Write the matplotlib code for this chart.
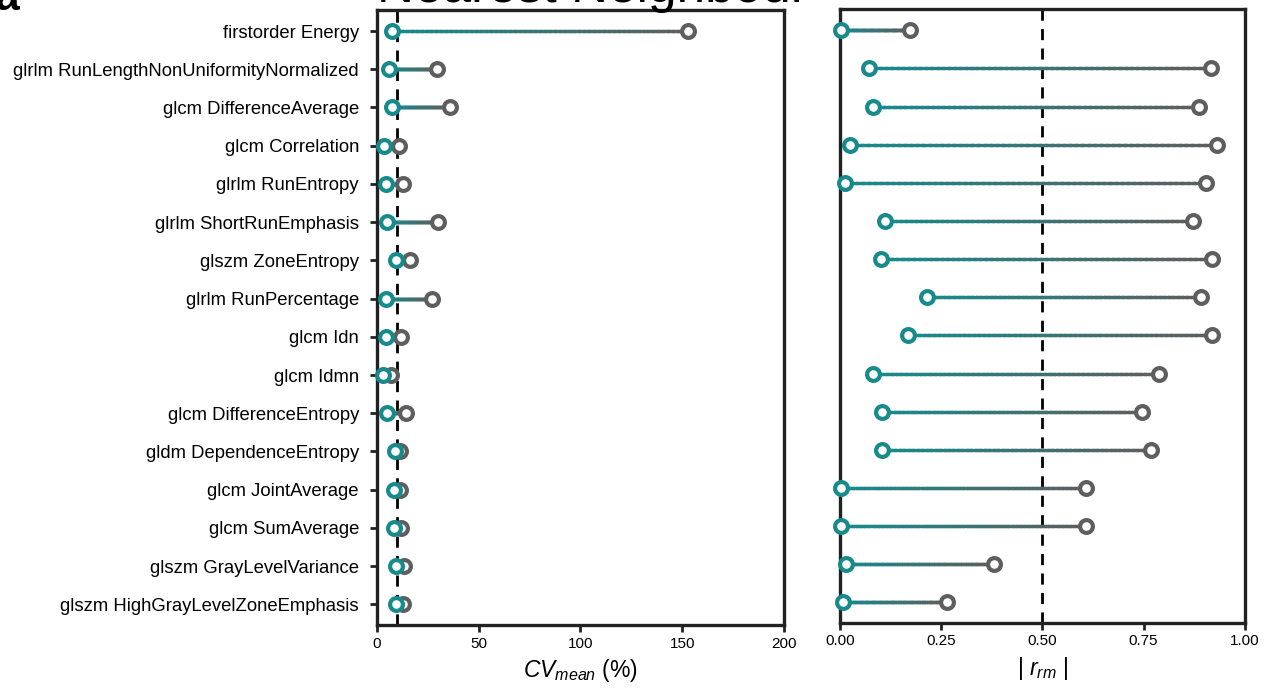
import numpy as np
import matplotlib
matplotlib.use('Agg')
import matplotlib.pyplot as plt
from matplotlib.collections import LineCollection
from matplotlib.colors import to_rgb

plt.rcParams['font.family'] = ['Liberation Sans', 'DejaVu Sans']
plt.rcParams['mathtext.fontset'] = 'custom'
plt.rcParams['mathtext.rm'] = 'Liberation Sans'
plt.rcParams['mathtext.it'] = 'Liberation Sans:italic'

features = [
    'firstorder Energy',
    'glrlm RunLengthNonUniformityNormalized',
    'glcm DifferenceAverage',
    'glcm Correlation',
    'glrlm RunEntropy',
    'glrlm ShortRunEmphasis',
    'glszm ZoneEntropy',
    'glrlm RunPercentage',
    'glcm Idn',
    'glcm Idmn',
    'glcm DifferenceEntropy',
    'gldm DependenceEntropy',
    'glcm JointAverage',
    'glcm SumAverage',
    'glszm GrayLevelVariance',
    'glszm HighGrayLevelZoneEmphasis',
]

# CV mean (%) -- teal (after) and gray (before)
cv_teal = [7.4, 5.9, 7.4, 3.4, 4.4, 4.9, 9.3, 4.4, 4.3, 3.1, 4.8, 8.8, 8.4, 8.4, 9.3, 9.2]
cv_gray = [152.8, 29.5, 35.9, 10.8, 12.8, 30.0, 16.2, 27.0, 11.8, 6.7, 14.2, 11.3, 11.3, 11.6, 13.3, 12.6]

# |r_rm| -- teal (after) and gray (before)
r_teal = [0.003, 0.072, 0.081, 0.025, 0.012, 0.112, 0.101, 0.214, 0.169, 0.081, 0.103, 0.103, 0.002, 0.002, 0.016, 0.008]
r_gray = [0.173, 0.917, 0.887, 0.931, 0.904, 0.871, 0.919, 0.891, 0.918, 0.789, 0.745, 0.768, 0.608, 0.608, 0.381, 0.264]

cv_thresh = 10
r_thresh = 0.5

TEAL = '#178a8c'
GRAY = '#5e5e5e'
EDGE = '#222222'


def gradient_dumbbell(ax, start, end, rows):
    c0 = np.array(to_rgb(TEAL))
    c1 = np.array(to_rgb(GRAY))
    n = 60
    for x0, x1, y in zip(start, end, rows):
        xs = np.linspace(x0, x1, n + 1)
        segs = [[(xs[i], y), (xs[i + 1], y)] for i in range(n)]
        t = np.linspace(0, 1, n)[:, None]
        cols = c0 * (1 - t) + c1 * t
        lc = LineCollection(segs, colors=cols, linewidths=2.4, zorder=2)
        lc.set_capstyle('projecting')
        ax.add_collection(lc)
    ax.scatter(end, rows, s=85, facecolor='white', edgecolor=GRAY, linewidth=3.0, zorder=3,
               clip_on=False)
    ax.scatter(start, rows, s=85, facecolor='white', edgecolor=TEAL, linewidth=3.0, zorder=4,
               clip_on=False)


def style_axes(ax):
    for sp in ax.spines.values():
        sp.set_linewidth(2.4)
        sp.set_color(EDGE)
    ax.tick_params(axis='x', length=5, width=2, color=EDGE, labelsize=11, pad=3)
    ax.set_ylim(15.55, -0.55)


fig = plt.figure(figsize=(12.71, 6.98), dpi=100)
ax1 = fig.add_axes([0.2966, 0.1040, 0.3202, 0.8817])
ax2 = fig.add_axes([0.6609, 0.1070, 0.3185, 0.8797])

rows = np.arange(len(features))

# left panel: CV mean
gradient_dumbbell(ax1, cv_teal, cv_gray, rows)
ax1.axvline(cv_thresh, color='black', linestyle=(0, (4, 3)), linewidth=2, zorder=1)
ax1.set_xlim(0, 200)
ax1.set_xticks([0, 50, 100, 150, 200])
ax1.set_yticks(rows)
ax1.set_yticklabels(features, fontsize=13.3)
ax1.tick_params(axis='y', length=5, width=2, color=EDGE, pad=8)
style_axes(ax1)
ax1.set_xlabel(r'$CV_{mean}$ (%)', fontsize=16.5, labelpad=5)

# right panel: |r_rm|
gradient_dumbbell(ax2, r_teal, r_gray, rows)
ax2.axvline(r_thresh, color='black', linestyle=(0, (4, 3)), linewidth=2, zorder=1)
ax2.set_xlim(0, 1)
ax2.set_xticks([0, 0.25, 0.5, 0.75, 1.0])
ax2.set_xticklabels(['0.00', '0.25', '0.50', '0.75', '1.00'])
ax2.set_yticks([])
style_axes(ax2)
ax2.set_xlabel(r'| $r_{rm}$ |', fontsize=16.5, labelpad=5)

fig.text(0.466, 0.9975, 'Nearest Neighbour', fontsize=37, ha='center', va='baseline')
fig.text(-0.004, 0.986, 'a', fontsize=32, fontweight='bold', ha='left', va='baseline')

fig.savefig('out.png', dpi=100)
